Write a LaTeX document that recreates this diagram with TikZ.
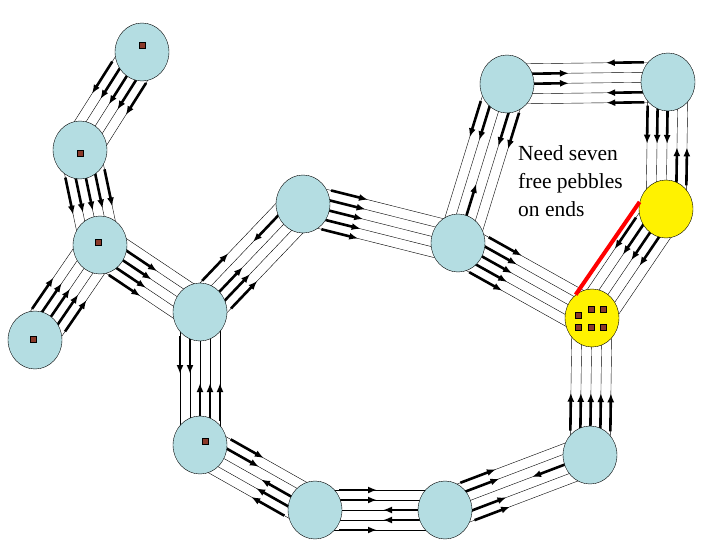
\documentclass[tikz,border=0pt]{standalone}
\usepackage{fontspec}
\setmainfont{Liberation Serif}
\usetikzlibrary{calc,shapes.geometric,arrows.meta}
\definecolor{atomblue}{HTML}{B4DDE2}
\definecolor{pebblebrown}{HTML}{8B3A2A}
\tikzset{
  atom/.style={ellipse, draw, fill=atomblue, minimum width=54pt, minimum height=58pt, inner sep=0pt},
  hot/.style={atom, fill=yellow},
  bar/.style={thin},
  peb/.style={-{Latex[length=9pt,width=7pt]}, line width=2.6pt},
  pebble/.style={draw, fill=pebblebrown, minimum size=6pt, inner sep=0pt, thin},
}
\begin{document}
\begin{tikzpicture}[x=1pt, y=-1pt]
  \useasboundingbox (0,0) rectangle (720,540);
  % atom centres
  \coordinate (A) at (142,52);
  \coordinate (B) at (80,150);
  \coordinate (C) at (100,245);
  \coordinate (D) at (35,340);
  \coordinate (E) at (200,312);
  \coordinate (F) at (303,204);
  \coordinate (G) at (458,243);
  \coordinate (H) at (507,84);
  \coordinate (I) at (668,82);
  \coordinate (J) at (666,209);
  \coordinate (K) at (592,318);
  \coordinate (L) at (200,445);
  \coordinate (M) at (590,455);
  \coordinate (N) at (315,510);
  \coordinate (O) at (445,510);

  % bars, five per bond
  \foreach \a/\b/\s in {A/B/{a,a,a,a,a}, B/C/{a,a,a,a,a}, D/C/{a,a,a,a,a},
      C/E/{a,a,a,a,n}, E/F/{a,a,a,b,a}, F/G/{a,a,a,a,a}, G/H/{b,b,a,b,b},
      H/I/{b,b,a,a,b}, I/J/{a,a,a,b,b}, J/K/{a,a,a,a,n}, G/K/{a,a,a,a,a},
      E/L/{a,a,b,b,b}, L/N/{b,b,b,a,a}, N/O/{a,b,b,a,a}, O/M/{a,a,b,a,a},
      M/K/{a,a,a,a,a}}{
    \foreach \t [count=\i] in \s {
      \pgfmathsetmacro\o{(\i-3)*10}
      \coordinate (p) at ($(\a)!\o pt!90:(\b)$);
      \coordinate (q) at ($(\b)!\o pt!-90:(\a)$);
      \draw[bar] (p) -- (q);
      \if\t a\draw[peb] ($(p)!24pt!(q)$) -- ($(p)!62pt!(q)$);\fi
      \if\t b\draw[peb] ($(q)!24pt!(p)$) -- ($(q)!62pt!(p)$);\fi
    }
  }

  % atoms
  \foreach \n in {A,B,C,D,E,F,G,H,I,L,M,N,O}
    \node[atom] (\n-a) at (\n) {};
  \node[hot] (J-a) at (J) {};
  \node[hot] (K-a) at (K) {};

  \draw[red, line width=4pt] (J-a.165) -- (K-a.125);

  % pebbles
  \foreach \x/\y in {142/45, 80/153, 98/242, 33/339, 205/441,
      578/315, 591/309, 603/309, 578/327, 591/327, 603/327}
    \node[pebble] at (\x,\y) {};

  \node[anchor=north west, align=left, inner sep=0pt,
    font=\fontspec{Liberation Serif}\fontsize{21.5}{28}\selectfont]
    (note) at (518,145) {Need seven\\free pebbles\\on ends};
\end{tikzpicture}
\end{document}
